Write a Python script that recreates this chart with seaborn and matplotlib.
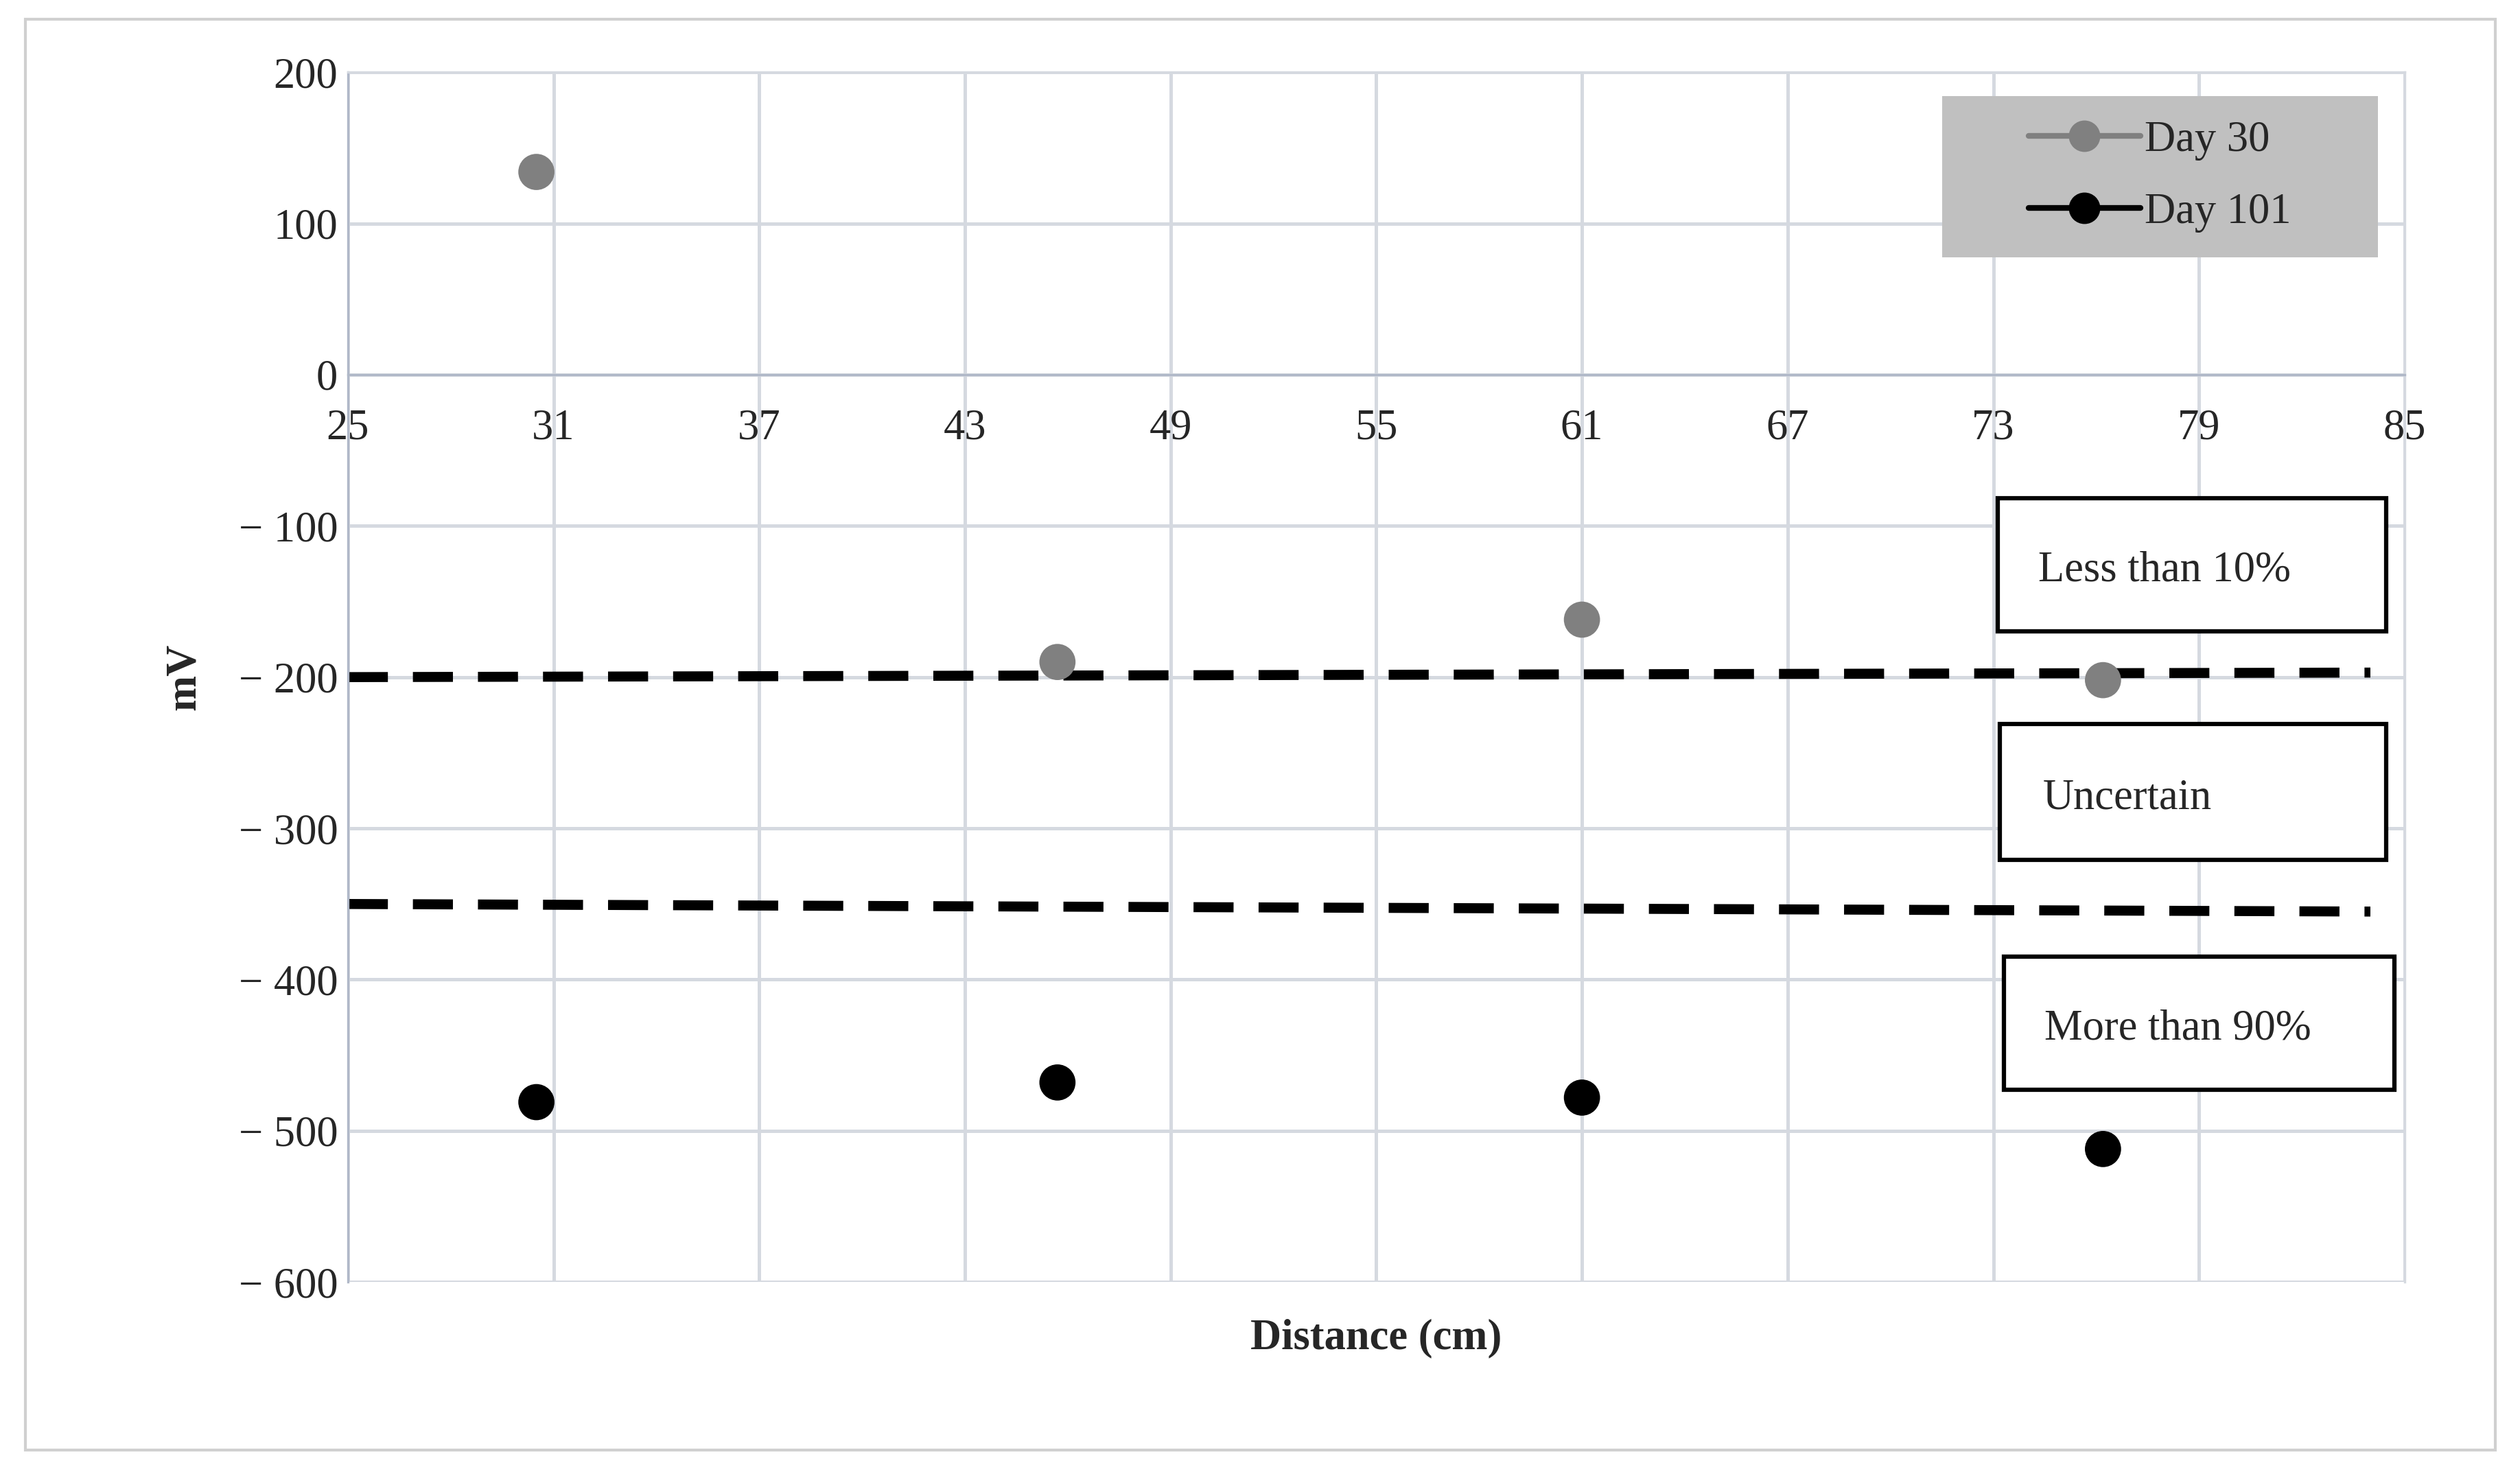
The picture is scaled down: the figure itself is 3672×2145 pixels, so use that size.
import matplotlib
matplotlib.use("Agg")
import matplotlib.pyplot as plt
import seaborn as sns
import pandas as pd
from matplotlib.patches import Rectangle

distance = [30.5, 45.7, 61.0, 76.2]
day30 = [134, -190, -162, -202]
day101 = [-481, -468, -478, -512]
line_x = [25, 84]
upper_line = [-200, -197]
lower_line = [-350, -355]
yticks = [200, 100, 0, -100, -200, -300, -400, -500, -600]
xticks = [25, 31, 37, 43, 49, 55, 61, 67, 73, 79, 85]
zone_labels = ["Less than 10%", "Uncertain", "More than 90%"]

sns.set_style("white")
plt.rcParams['font.family'] = ['Liberation Serif', 'DejaVu Serif']

df = pd.DataFrame({"Distance": distance * 2,
                   "mV": day30 + day101,
                   "Series": ["Day 30"] * 4 + ["Day 101"] * 4})

fig = plt.figure(figsize=(12.243, 7.15), dpi=300)
ax = fig.add_axes([0.138, 0.129, 0.816, 0.822])
fig.patches.append(Rectangle((0.01, 0.015), 0.98, 0.972, transform=fig.transFigure,
                             fill=False, edgecolor="#d0d0d0", linewidth=1))

ax.plot(line_x, upper_line, color="black", linestyle=(0, (4, 2.5)), linewidth=3.5)
ax.plot(line_x, lower_line, color="black", linestyle=(0, (4, 2.5)), linewidth=3.5)

sns.scatterplot(data=df, x="Distance", y="mV", hue="Series",
                palette={"Day 30": "#808080", "Day 101": "black"},
                s=160, edgecolor="none", ax=ax, legend=False, zorder=3)

ax.set_xlim(25, 85)
ax.set_ylim(-600, 200)
ax.spines["bottom"].set_position(("data", 0))
ax.set_yticks(yticks)
ax.set_yticklabels([f"− {abs(v)}" if v < 0 else str(v) for v in yticks])
ax.set_xticks(xticks)
ax.set_xticklabels([str(v) for v in xticks])
ax.tick_params(axis="both", length=0, labelsize=15)
ax.tick_params(axis="x", pad=12)
ax.grid(True, color="#d5d9e0", linewidth=1.2)
ax.set_axisbelow(True)
for s in ["top", "right"]:
    ax.spines[s].set_color("#d5d9e0")
ax.spines["left"].set_color("#b0b8c8")
ax.spines["bottom"].set_color("#b0b8c8")
ax.set_xlabel("Distance (cm)", fontsize=15, fontweight="bold")
ax.xaxis.set_label_coords(0.5, -0.03)
ax.set_ylabel("mV", fontsize=15, fontweight="bold", labelpad=12)

# legend with grey background block
ax.add_patch(Rectangle((0.775, 0.847), 0.212, 0.133, transform=ax.transAxes,
                       facecolor="#c0c0c0", edgecolor="none", zorder=4))
h1, = ax.plot([], [], color="#808080", marker="o", markersize=10, linewidth=2, label="Day 30")
h2, = ax.plot([], [], color="black", marker="o", markersize=10, linewidth=2, label="Day 101")
leg = ax.legend(handles=[h1, h2], loc="center", bbox_to_anchor=(0.881, 0.9135),
                fontsize=15, frameon=False, labelspacing=0.75,
                handletextpad=0.1, handlelength=2.6)
leg.set_zorder(5)

boxes = [(0.802, 0.538, 0.189, 0.110, 0.822),
         (0.803, 0.349, 0.188, 0.112, 0.824),
         (0.805, 0.159, 0.190, 0.110, 0.825)]
for (bx, by, bw, bh, tx), label in zip(boxes, zone_labels):
    ax.add_patch(Rectangle((bx, by), bw, bh, transform=ax.transAxes,
                           facecolor="white", edgecolor="black", linewidth=1.5, zorder=4))
    ax.text(tx, by + bh / 2 - 0.005, label, transform=ax.transAxes, fontsize=15,
            va="center", ha="left", zorder=5)

fig.savefig("out.png", dpi=300)
